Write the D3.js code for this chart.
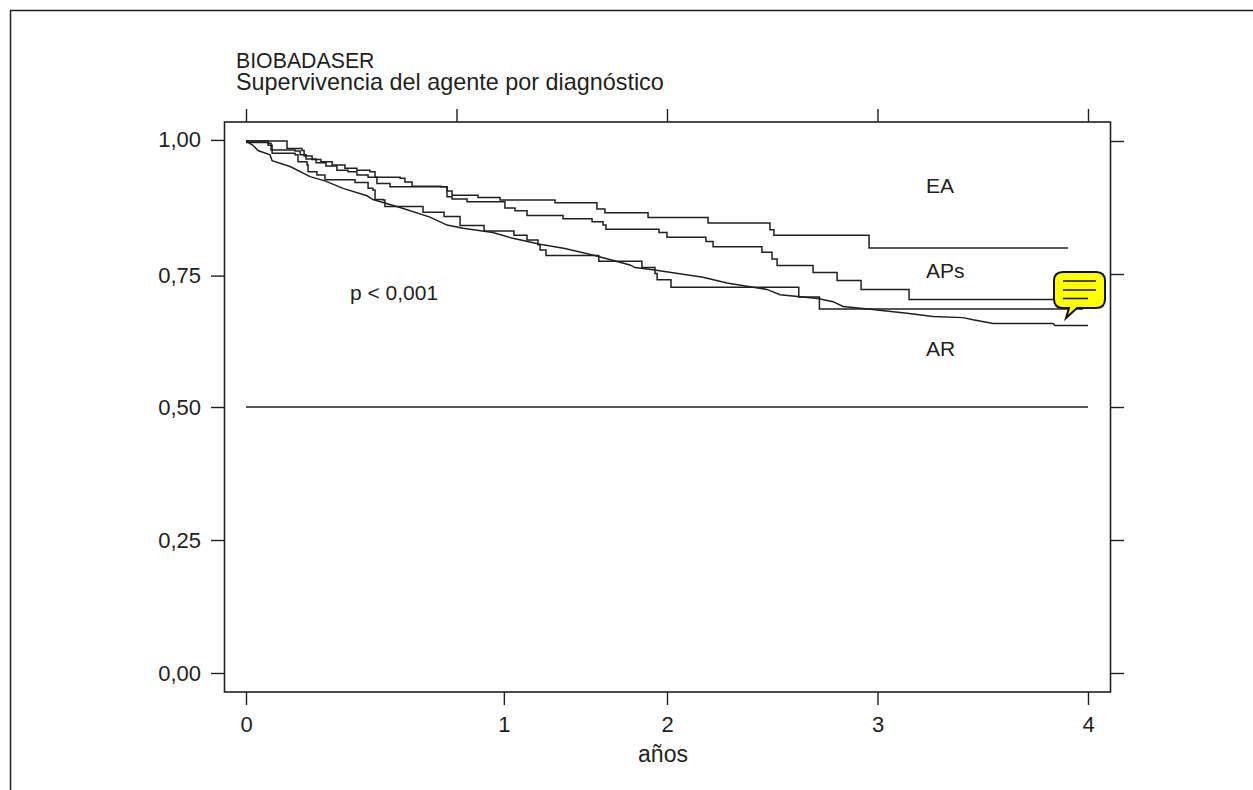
<!DOCTYPE html>
<html>
<head>
<meta charset="utf-8">
<script src="https://cdn.jsdelivr.net/npm/d3@7"></script>
<style>
  html, body { margin: 0; padding: 0; background: #fff; }
  svg { display: block; }
  text { font-family: "Liberation Sans", Arial, sans-serif; fill: #231f20; }
</style>
</head>
<body>
<div id="chart"></div>
<script>
// Supervivencia: [años, proporción], cada punto abre un escalón
const seriesEA = [[0,1.000],[.195,.986],[.266,.982],[.276,.972],[.314,.965],[.356,.961],[.409,.955],[.470,.949],[.527,.945],[.589,.942],[.613,.932],[.732,.930],[.755,.923],[.789,.915],[.926,.914],[.955,.906],[.979,.898],[1.102,.894],[1.207,.889],[1.468,.884],[1.667,.872],[1.705,.865],[1.910,.856],[2.195,.846],[2.489,.833],[2.508,.823],[2.960,.799],[3.905,.799]];
const seriesAPs = [[0,1.000],[.105,.996],[.119,.983],[.233,.981],[.257,.974],[.285,.966],[.333,.959],[.380,.953],[.432,.945],[.485,.942],[.527,.936],[.580,.932],[.622,.920],[.684,.914],[.955,.895],[.979,.891],[1.050,.886],[1.230,.874],[1.278,.869],[1.335,.860],[1.506,.854],[1.644,.848],[1.696,.842],[1.710,.834],[1.962,.828],[2.000,.819],[2.185,.811],[2.219,.801],[2.451,.791],[2.499,.778],[2.523,.766],[2.694,.753],[2.808,.738],[2.922,.721],[3.150,.702],[3.900,.702]];
const seriesOtros = [[0,.997],[.105,.992],[.124,.977],[.233,.974],[.247,.961],[.290,.955],[.295,.942],[.337,.936],[.375,.927],[.518,.922],[.580,.911],[.603,.908],[.613,.890],[.651,.889],[.660,.877],[.841,.866],[.941,.858],[1.017,.841],[1.131,.831],[1.273,.823],[1.335,.814],[1.387,.805],[1.397,.795],[1.425,.785],[1.676,.774],[1.881,.762],[1.943,.751],[1.953,.739],[2.019,.725],[2.626,.707],[2.724,.684],[3.976,.684]];
// AR tiene tantos eventos que se ve casi continua
const seriesAR = [[0,1.000],[.033,.992],[.057,.982],[.114,.974],[.124,.963],[.209,.952],[.304,.933],[.375,.925],[.461,.911],[.575,.897],[.603,.890],[.732,.875],[.874,.857],[.955,.842],[1.031,.836],[1.173,.828],[1.268,.817],[1.397,.806],[1.515,.798],[1.666,.784],[1.824,.767],[1.848,.762],[1.933,.758],[2.171,.744],[2.285,.733],[2.475,.721],[2.537,.711],[2.717,.704],[2.789,.698],[2.836,.689],[2.955,.684],[3.140,.676],[3.264,.670],[3.406,.668],[3.454,.664],[3.549,.657],[3.834,.657],[3.843,.653],[4.000,.653]];
const refLine = [[0,.5],[4,.5]];

const rightTicks = [0, .25, .5, .75, 1];
const leftTicks = [0, .25, .5, .747, 1.002]; // las marcas izquierdas no coinciden del todo con las derechas
const leftLabels = ["0,00", "0,25", "0,50", "0,75", "1,00"];
const topTicks = [0, 1, 2, 3, 4];
const bottomTicks = [0, 1.225, 2, 3, 4]; // en el original el "1" inferior esta desplazado
const bottomLabels = ["0", "1", "2", "3", "4"];

const noteLabels = ["EA", "APs", "AR", "p < 0,001"];
const noteT = [3.23, 3.23, 3.23, .494];
const noteS = [.902, .742, .595, .701];

const width = 1253, height = 790;
const svg = d3.select("#chart").append("svg")
    .attr("width", width)
    .attr("height", height);

const x = d3.scaleLinear().domain([0, 4]).range([246, 1088]);
const y = d3.scaleLinear().domain([0, 1]).range([673, 141]);
const ink = "#231f20";

// Borde exterior, cortado por la derecha y por abajo
svg.append("path")
    .attr("d", `M10.5,${height} V10.5 H${width}`)
    .attr("fill", "none")
    .attr("stroke", ink)
    .attr("stroke-width", 1.5);

// Marco del panel
svg.append("rect")
    .attr("x", 224.5)
    .attr("y", 122)
    .attr("width", 886)
    .attr("height", 570)
    .attr("fill", "none")
    .attr("stroke", ink)
    .attr("stroke-width", 1.6);

// Ejes
const styleAxis = g => {
    g.select(".domain").remove();
    g.selectAll("line").attr("stroke", ink).attr("stroke-width", 1.4);
    g.selectAll("text").attr("font-size", 22).style("fill", ink);
};

svg.append("g")
    .attr("transform", "translate(0,692)")
    .call(d3.axisBottom(x).tickValues(bottomTicks).tickFormat((d, i) => bottomLabels[i]).tickSize(13).tickPadding(11))
    .call(styleAxis);

svg.append("g")
    .attr("transform", "translate(0,122)")
    .call(d3.axisTop(x).tickValues(topTicks).tickFormat("").tickSize(13))
    .call(styleAxis);

svg.append("g")
    .attr("transform", "translate(224,0)")
    .call(d3.axisLeft(y).tickValues(leftTicks).tickFormat((d, i) => leftLabels[i]).tickSize(13).tickPadding(10))
    .call(styleAxis);

svg.append("g")
    .attr("transform", "translate(1110,0)")
    .call(d3.axisRight(y).tickValues(rightTicks).tickFormat("").tickSize(14))
    .call(styleAxis);

// Curvas
const stepLine = d3.line().x(d => x(d[0])).y(d => y(d[1])).curve(d3.curveStepAfter);
const plainLine = d3.line().x(d => x(d[0])).y(d => y(d[1]));

[seriesEA, seriesAPs, seriesOtros].forEach(s => {
    svg.append("path")
        .attr("d", stepLine(s))
        .attr("fill", "none")
        .attr("stroke", ink)
        .attr("stroke-width", 1.5);
});

[seriesAR, refLine].forEach(s => {
    svg.append("path")
        .attr("d", plainLine(s))
        .attr("fill", "none")
        .attr("stroke", ink)
        .attr("stroke-width", 1.5);
});

// Textos
svg.append("text").attr("x", 236).attr("y", 68).attr("font-size", 21.3).text("BIOBADASER");
svg.append("text").attr("x", 236).attr("y", 90).attr("font-size", 23.4).text("Supervivencia del agente por diagnóstico");
svg.append("text").attr("x", 663).attr("y", 762).attr("text-anchor", "middle").attr("font-size", 23).text("años");

svg.selectAll(".note")
    .data(noteLabels)
    .enter().append("text")
    .attr("class", "note")
    .attr("x", (d, i) => x(noteT[i]))
    .attr("y", (d, i) => y(noteS[i]))
    .attr("font-size", 21)
    .text(d => d);

// Globo de comentario amarillo
const note = svg.append("g").attr("transform", "translate(1054,272)");
note.append("path")
    .attr("d", "M9,0 H42 Q51,0 51,9 V27 Q51,36 42,36 H23 L12,46 L15,36 H9 Q0,36 0,27 V9 Q0,0 9,0 Z")
    .attr("fill", "#ffff00")
    .attr("stroke", "#111")
    .attr("stroke-width", 2);
[[9, 42, 9], [9, 42, 18], [9, 34, 26.5]].forEach(l => {
    note.append("line")
        .attr("x1", l[0]).attr("x2", l[1])
        .attr("y1", l[2]).attr("y2", l[2])
        .attr("stroke", "#111")
        .attr("stroke-width", 1.5);
});
</script>
</body>
</html>
